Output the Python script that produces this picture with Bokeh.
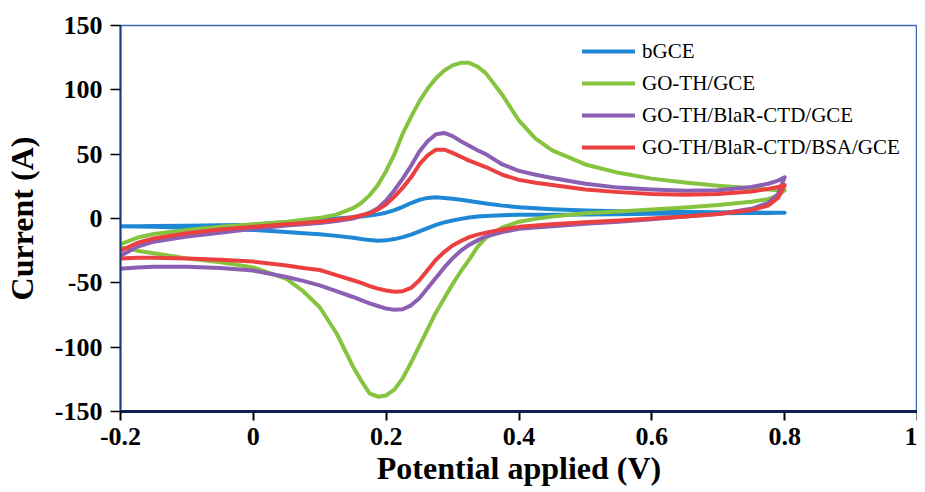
from bokeh.plotting import figure
from bokeh.models import Legend, LegendItem, FixedTicker, Range1d
from bokeh.embed import file_html
from bokeh.resources import INLINE

# Potential grid (V), shared by every branch
potential = [-0.2, -0.175, -0.15, -0.1, -0.05, 0.0, 0.05, 0.075, 0.1, 0.125, 0.15,
             0.1625, 0.175, 0.1875, 0.2, 0.2125, 0.225, 0.2375, 0.25, 0.2625, 0.275,
             0.2875, 0.3, 0.3125, 0.325, 0.3375, 0.35, 0.375, 0.4, 0.425, 0.45, 0.5, 0.55,
             0.6, 0.65, 0.7, 0.75, 0.775, 0.79, 0.8]

# Forward (anodic) and reverse (cathodic) branches, listed at the potentials above
bgce_fwd = [-6, -6, -5.8, -5.6, -5.3, -4.8, -3, -2, -1, 0, 1,
            1.6, 2.3, 3.2, 4.5, 6.5, 9, 12, 14.5, 16, 16.5,
            16, 15.3, 14.5, 13.6, 12.6, 11.7, 10, 8.8, 7.9, 7.2, 6.3, 5.7,
            5.3, 5, 4.8, 4.6, 4.5, 4.5, 4.5]
bgce_rev = [-6, -6.2, -6.5, -7.2, -8, -9, -10.5, -11.4, -12.3, -13.5, -15,
            -16, -16.8, -17.2, -17, -16, -14.5, -12.5, -10, -7.5, -5,
            -3, -1.5, -0.3, 0.8, 1.5, 2, 2.6, 3, 3, 3, 3.2, 3.4,
            3.6, 3.8, 4, 4.2, 4.3, 4.4, 4.5]

goth_fwd = [-20, -15, -12, -9, -6.5, -4.5, -2.5, -1, 0.5, 3, 8,
            12, 18, 26, 37, 50, 66, 79, 91, 101, 109,
            115, 119, 121, 121, 118, 113, 96, 76, 62, 53, 42, 35.5,
            31, 28, 25.5, 23.5, 22.5, 22, 22]
goth_rev = [-22, -25, -27, -31, -34, -38, -47, -56.5, -69, -89, -115,
            -126, -136, -138.5, -137.5, -133, -124, -112, -99, -86, -73,
            -62, -51, -41, -32, -22, -15, -7, -2.5, -0.3, 1.5, 4, 5.5,
            7, 8.5, 10.5, 13, 15, 18, 22]

blar_fwd = [-29, -22, -18, -14, -11, -8, -5.5, -4.5, -3.5, -2, 0,
            2, 4.5, 8, 14, 22, 31, 41, 52, 60, 65.5,
            66.5, 64, 60, 56.5, 53, 50, 42, 37, 34, 31.5, 27, 24,
            22.5, 21.5, 22, 24.5, 27, 29.5, 32]
blar_rev = [-39, -38, -37.5, -37.5, -38.5, -40.5, -45.5, -48.5, -52, -56.5, -61,
            -63.5, -66, -68, -70, -71, -70.5, -67.5, -62, -54, -46,
            -38, -31, -25, -20.5, -17, -14, -10.5, -8, -7, -6, -4, -2.5,
            -0.5, 1.5, 3.5, 7.5, 12, 19, 32]

bsa_fwd = [-25, -19, -15.5, -11.5, -8.5, -6.5, -4.5, -3.5, -2.5, -1, 1,
           2.5, 4, 7, 11, 17, 24, 32, 42, 49, 53.5,
           53.5, 51, 48, 45, 42.5, 40, 34, 30, 27.8, 26, 22.5, 20.5,
           19, 18.5, 19, 21, 23, 24.5, 26]
bsa_rev = [-31, -30.5, -30.5, -31, -32, -33.5, -36.5, -38.5, -40, -44, -48,
           -50, -52.5, -54.5, -56, -57, -56.5, -54, -48, -40, -32,
           -26, -21, -17.5, -14.5, -12.5, -11, -8.5, -6.5, -5.5, -4.5, -3, -1.5,
           0, 1.5, 3.5, 6.5, 10, 16, 26]

series_names = ["bGCE", "GO-TH/GCE", "GO-TH/BlaR-CTD/GCE", "GO-TH/BlaR-CTD/BSA/GCE"]
series_colors = ["#1f88d4", "#86c440", "#8b5fb3", "#ec4040"]
x_ticks = [-0.2, 0, 0.2, 0.4, 0.6, 0.8, 1]
x_tick_labels = ["-0.2", "0", "0.2", "0.4", "0.6", "0.8", "1"]
y_ticks = [-150, -100, -50, 0, 50, 100, 150]
y_tick_labels = ["-150", "-100", "-50", "0", "50", "100", "150"]

p = figure(width=917, height=488, output_backend="svg", toolbar_location=None,
           x_range=Range1d(-0.2, 1.0), y_range=Range1d(-150, 150),
           min_border_left=120, min_border_right=0, min_border_top=25,
           background_fill_color="white", border_fill_color="white")

p.xgrid.visible = False
p.ygrid.visible = False
p.outline_line_color = "#4068b2"
p.outline_line_width = 1.5

serif = "Liberation Serif"
for ax in (p.xaxis[0], p.yaxis[0]):
    ax.major_label_text_font = serif
    ax.major_label_text_font_style = "bold"
    ax.major_label_text_font_size = "26px"
    ax.major_label_text_color = "black"
    ax.axis_label_text_font = serif
    ax.axis_label_text_font_style = "bold"
    ax.axis_label_text_font_size = "32px"
    ax.axis_label_text_color = "black"
    ax.major_tick_in = 0
    ax.major_tick_line_color = "black"
    ax.minor_tick_line_color = None

p.xaxis.ticker = FixedTicker(ticks=x_ticks)
p.xaxis.major_label_overrides = dict(zip(x_ticks, x_tick_labels))
p.yaxis.ticker = FixedTicker(ticks=y_ticks)
p.yaxis.major_label_overrides = dict(zip(y_ticks, y_tick_labels))

p.xaxis.axis_label = "Potential applied (V)"
p.yaxis.axis_label = "Current (A)"
p.xaxis.axis_line_color = "#0e2352"
p.xaxis.axis_line_width = 3
p.xaxis.major_tick_out = 9
p.xaxis.major_tick_line_width = 2
p.xaxis.major_label_standoff = 7
p.xaxis.axis_label_standoff = 2
p.yaxis.axis_line_color = "#1b3c82"
p.yaxis.axis_line_width = 2
p.yaxis.major_tick_out = 10
p.yaxis.major_tick_line_width = 1.5
p.yaxis.major_label_standoff = 8
p.yaxis.axis_label_standoff = 12

branches = [(bgce_fwd, bgce_rev), (goth_fwd, goth_rev),
            (blar_fwd, blar_rev), (bsa_fwd, bsa_rev)]
loop_x = potential + potential[::-1]
renderers = []
for (fwd, rev), color in zip(branches, series_colors):
    r = p.line(loop_x, fwd + rev[::-1], line_color=color, line_width=4,
               line_join="round", line_cap="round")
    renderers.append(r)

legend = Legend(items=[LegendItem(label=n, renderers=[r]) for n, r in zip(series_names, renderers)],
                location=(462, 250), orientation="vertical",
                border_line_color=None, background_fill_alpha=0,
                padding=0, margin=0, spacing=4,
                glyph_width=53, glyph_height=28, label_height=28, label_standoff=7,
                label_text_font=serif, label_text_font_size="21px",
                label_text_color="black")
p.add_layout(legend)

open("out.html", "w").write(file_html(p, INLINE))
